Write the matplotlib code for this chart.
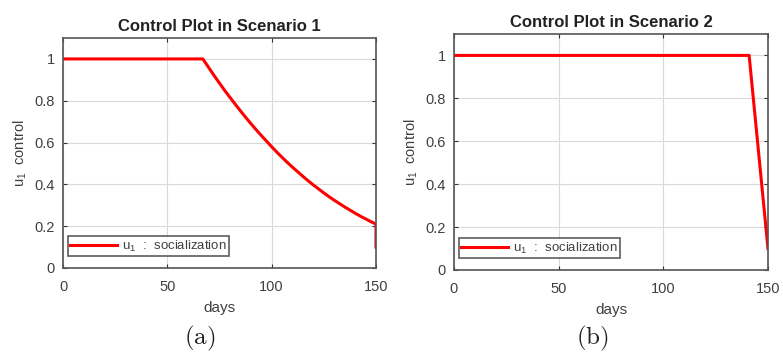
import matplotlib
matplotlib.use("Agg")
import matplotlib.pyplot as plt

plt.rcParams['font.family'] = ['Liberation Sans', 'DejaVu Sans']
plt.rcParams['mathtext.fontset'] = 'custom'
plt.rcParams['mathtext.rm'] = 'Liberation Sans'
plt.rcParams['mathtext.it'] = 'Liberation Sans'

# Scenario 1 control
days1 = [0, 20, 40, 60, 67, 68.5, 70, 72.5, 75, 77.5, 80, 82.5, 85, 87.5, 90,
         92.5, 95, 97.5, 100, 102.5, 105, 107.5, 110, 112.5, 115, 117.5, 120,
         122.5, 125, 127.5, 130, 132.5, 135, 137.5, 140, 142.5, 145, 147.5,
         150, 150]
u1_s1 = [1, 1, 1, 1, 1.0, 0.978, 0.956, 0.919, 0.884, 0.849, 0.816, 0.784,
         0.752, 0.721, 0.691, 0.662, 0.634, 0.607, 0.580, 0.554, 0.529, 0.505,
         0.482, 0.460, 0.438, 0.417, 0.397, 0.378, 0.359, 0.341, 0.324, 0.308,
         0.292, 0.277, 0.262, 0.248, 0.235, 0.222, 0.21, 0.10]
# Scenario 2 control
days2 = [0, 50, 100, 141, 150]
u1_s2 = [1, 1, 1, 1, 0.10]

titles = ["Control Plot in Scenario 1", "Control Plot in Scenario 2"]
captions = ["(a)", "(b)"]
xticks = [0, 50, 100, 150]
yticks = [0, 0.2, 0.4, 0.6, 0.8, 1]
yticklabels = ["0", "0.2", "0.4", "0.6", "0.8", "1"]

fig = plt.figure(figsize=(7.83, 3.56), dpi=100)
positions = [[0.0805, 0.2472, 0.3997, 0.646], [0.5798, 0.2416, 0.401, 0.663]]
caption_x = [0.255, 0.757]
data = [(days1, u1_s1), (days2, u1_s2)]
txtc = '#404040'
for i in range(2):
    ax = fig.add_axes(positions[i])
    x, y = data[i]
    ax.plot(x, y, color='#ff0000', lw=2.2, label=r'u$_1$  :  socialization')
    ax.set_xlim(0, 150)
    ax.set_ylim(0, 1.1)
    ax.set_xticks(xticks)
    ax.set_yticks(yticks)
    ax.set_yticklabels(yticklabels)
    ax.grid(True, color='#d9d9d9', lw=0.8)
    ax.set_axisbelow(True)
    ax.tick_params(direction='in', top=True, right=True, length=3, color='#333333',
                   labelsize=10.5, labelcolor=txtc)
    ax.tick_params(axis='x', pad=9)
    ax.tick_params(axis='y', pad=6)
    for s in ax.spines.values():
        s.set_color('#555555')
        s.set_linewidth(1.2)
    ax.set_title(titles[i], fontsize=12, fontweight='bold', color='#222222', pad=5)
    ax.set_xlabel('days', fontsize=11, color=txtc, labelpad=5)
    ax.set_ylabel(r'u$_1$  control', fontsize=10.5, color=txtc, labelpad=4)
    leg = ax.legend(loc='lower left', bbox_to_anchor=(0.015, 0.05), fontsize=9.5,
                    frameon=True, fancybox=False, handlelength=3.5,
                    borderpad=0.2, handletextpad=0.4, borderaxespad=0.0)
    leg.get_frame().set_edgecolor('#333333')
    leg.get_frame().set_linewidth(1.2)
    for t in leg.get_texts():
        t.set_color(txtc)
    fig.text(caption_x[i], 0.048, r'$\mathrm{' + captions[i] + '}$', ha='center',
             va='center', fontsize=18, math_fontfamily='cm', color='#222222')

fig.savefig('out.png', dpi=100)
